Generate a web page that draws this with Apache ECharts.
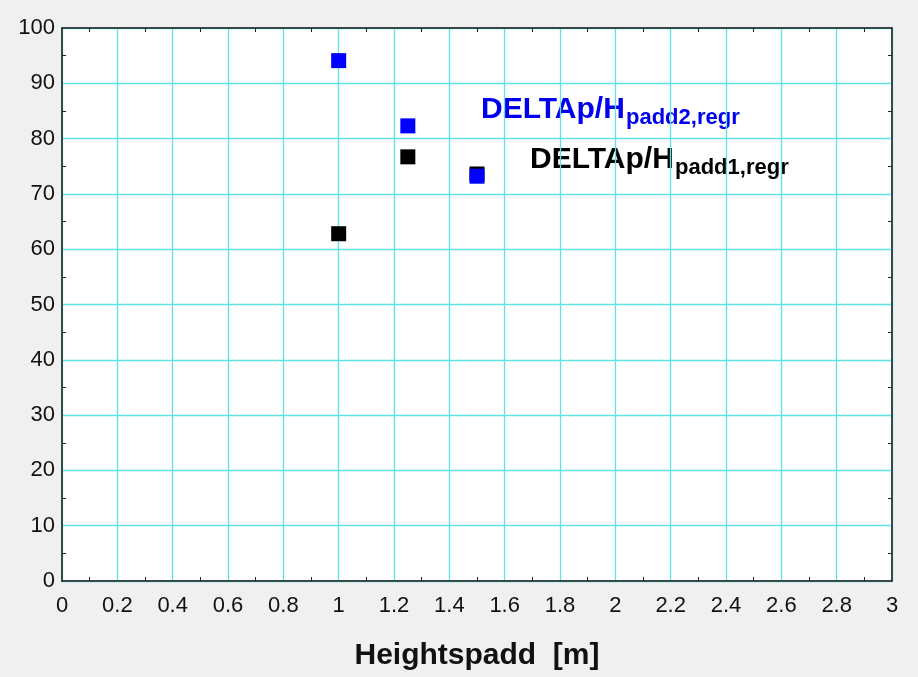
<!DOCTYPE html>
<html>
<head>
<meta charset="utf-8">
<script src="https://cdn.jsdelivr.net/npm/echarts@6/dist/echarts.min.js"></script>
<style>
  html, body { margin: 0; padding: 0; background: #f0f0f0; }
  #chart { width: 918px; height: 677px; }
</style>
</head>
<body>
<div id="chart"></div>
<script>
// heights of the padding [m]
const heights = [1, 1.25, 1.5];
// DELTAp/H values
const padd1Regr = [62.8, 76.7, 73.6];
const padd2Regr = [94.1, 82.3, 73.2];

const gridColor = '#5fe2e2';
const labelFont = 'Arial, "Liberation Sans", sans-serif';

const chart = echarts.init(document.getElementById('chart'));

const baseX = {
  type: 'value',
  min: 0,
  max: 3,
  interval: 0.2,
  axisLine: { show: true, onZero: false, lineStyle: { color: '#222', width: 1.5 } },
  axisTick: { show: false, inside: true },
  minorTick: { show: true, splitNumber: 2, length: 4, lineStyle: { color: '#222' } },
  splitLine: { show: false },
  axisLabel: { show: false }
};
const baseY = {
  type: 'value',
  min: 0,
  max: 100,
  interval: 10,
  axisLine: { show: true, onZero: false, lineStyle: { color: '#222', width: 1.5 } },
  axisTick: { show: false, inside: true },
  minorTick: { show: true, splitNumber: 2, length: 4, lineStyle: { color: '#222' } },
  splitLine: { show: false },
  axisLabel: { show: false }
};

const option = {
  backgroundColor: '#f0f0f0',
  animation: false,
  grid: {
    left: 62, right: 26, top: 28, bottom: 96,
    show: true,
    backgroundColor: '#ffffff',
    borderColor: '#333',
    borderWidth: 1
  },
  xAxis: [
    Object.assign({}, baseX, {
      position: 'bottom',
      splitLine: { show: true, lineStyle: { color: gridColor, width: 1.3 } },
      axisLabel: {
        show: true,
        margin: 14,
        fontSize: 22,
        color: '#111',
        fontFamily: labelFont,
        formatter: v => String(+v.toFixed(1))
      },
      name: 'Heightspadd  [m]',
      nameLocation: 'middle',
      nameGap: 60,
      nameTextStyle: { fontSize: 30, fontWeight: 'bold', color: '#111', fontFamily: labelFont }
    }),
    Object.assign({}, baseX, { position: 'top' })
  ],
  yAxis: [
    Object.assign({}, baseY, {
      position: 'left',
      splitLine: { show: true, lineStyle: { color: gridColor, width: 1.3 } },
      axisLabel: {
        show: true,
        margin: 7,
        fontSize: 22,
        color: '#111',
        fontFamily: labelFont
      }
    }),
    Object.assign({}, baseY, { position: 'right' })
  ],
  series: [
    {
      name: 'DELTAp/H padd1,regr',
      type: 'scatter',
      symbol: 'rect',
      symbolSize: 15,
      itemStyle: { color: '#000000', opacity: 1 },
      data: heights.map((h, i) => [h, padd1Regr[i]]),
      z: 3
    },
    {
      name: 'DELTAp/H padd2,regr',
      type: 'scatter',
      symbol: 'rect',
      symbolSize: 15,
      itemStyle: { color: '#0000ff', opacity: 1 },
      data: heights.map((h, i) => [h, padd2Regr[i]]),
      z: 4
    }
  ],
  graphic: [
    { type: 'text', left: 481, top: 95,
      style: { text: 'DELTAp/H', fill: '#0000ee', font: 'bold 30px ' + labelFont } },
    { type: 'text', left: 626, top: 107,
      style: { text: 'padd2,regr', fill: '#0000ee', font: 'bold 22px ' + labelFont } },
    { type: 'text', left: 530, top: 145,
      style: { text: 'DELTAp/H', fill: '#000000', font: 'bold 30px ' + labelFont } },
    { type: 'text', left: 675, top: 157,
      style: { text: 'padd1,regr', fill: '#000000', font: 'bold 22px ' + labelFont } }
  ]
};

chart.setOption(option);
</script>
</body>
</html>
